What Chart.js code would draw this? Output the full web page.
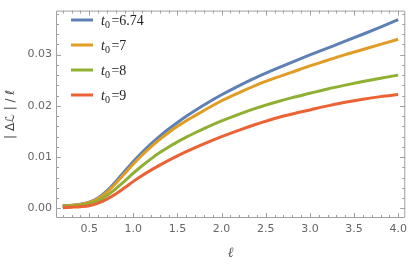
<!DOCTYPE html>
<html>
<head>
<meta charset="utf-8">
<script src="https://cdn.jsdelivr.net/npm/chart.js@4.4.0/dist/chart.umd.min.js"></script>
<style>
  html, body { margin: 0; padding: 0; background: #fff; }
  #wrap { width: 412px; height: 269px; }
</style>
</head>
<body>
<div id="wrap"><canvas id="chart"></canvas></div>
<script>
// data
const ell = [0.2, 0.3, 0.4, 0.5, 0.6, 0.7, 0.8, 0.9, 1.0, 1.1, 1.2, 1.3, 1.4, 1.5, 1.6, 1.7, 1.8,
             2.0, 2.2, 2.4, 2.6, 2.8, 3.0, 3.2, 3.4, 3.6, 3.8, 4.0];
const t674 = [0.0005, 0.0006, 0.0008, 0.0012, 0.0020, 0.0034, 0.0052, 0.0072, 0.00915, 0.01095, 0.0126, 0.0141, 0.01548, 0.01676, 0.01796, 0.01909, 0.02016,
              0.02216, 0.02396, 0.0256, 0.02712, 0.02856, 0.02994, 0.03128, 0.03262, 0.03398, 0.03538, 0.03682];
const t7 = [0.00045, 0.00055, 0.00075, 0.00115, 0.00185, 0.00315, 0.00485, 0.00675, 0.00865, 0.0104, 0.0120, 0.01345, 0.0148, 0.0160, 0.0171, 0.0181, 0.0191,
            0.0210, 0.0226, 0.0241, 0.0254, 0.0266, 0.0278, 0.0289, 0.0300, 0.0310, 0.0320, 0.0330];
const t8 = [0.0004, 0.0004, 0.0006, 0.0009, 0.0015, 0.0025, 0.0038, 0.0053, 0.00685, 0.0083, 0.00965, 0.01087, 0.01197, 0.01297, 0.01389, 0.01475, 0.01557,
            0.01705, 0.0184, 0.0196, 0.02065, 0.0216, 0.02245, 0.0233, 0.02405, 0.02475, 0.0254, 0.0260];
const t9 = [0.0001, 0.0002, 0.0003, 0.0005, 0.0010, 0.0018, 0.0028, 0.0040, 0.00525, 0.0064, 0.00745, 0.00843, 0.00935, 0.01022, 0.01105, 0.01184, 0.01259,
            0.01399, 0.01527, 0.01645, 0.01753, 0.0184, 0.0192, 0.0200, 0.0207, 0.0213, 0.0218, 0.0222];
const t0Labels = ['6.74', '7', '8', '9'];
const xTicks = [0.5, 1.0, 1.5, 2.0, 2.5, 3.0, 3.5, 4.0];
const yTicks = [0.00, 0.01, 0.02, 0.03];

const colors = ['#5E81B5', '#E19C24', '#8FB032', '#EB6235'];
const series = [t674, t7, t8, t9];

const datasets = series.map((s, i) => ({
  label: t0Labels[i],
  data: ell.map((x, j) => ({ x: x, y: s[j] })),
  borderColor: colors[i],
  borderWidth: 3,
  pointRadius: 0,
  fill: false,
  cubicInterpolationMode: 'monotone',
  order: 3 - i
}));

// frame with inward ticks on all sides, like Mathematica
const framePlugin = {
  id: 'frame',
  afterDatasetsDraw(chart) {
    const { ctx, chartArea: a, scales } = chart;
    const xs = scales.x, ys = scales.y;
    ctx.save();
    ctx.strokeStyle = '#a0a0a0';
    ctx.lineWidth = 1;
    ctx.beginPath();
    ctx.rect(a.left + 0.5, a.top + 0.5, a.right - a.left - 1, a.bottom - a.top - 1);
    ctx.stroke();
    ctx.beginPath();
    for (let k = 1; k <= 41; k++) {
      const v = k / 10;
      if (v < xs.min || v > xs.max) continue;
      const px = Math.round(xs.getPixelForValue(v)) + 0.5;
      const len = (k % 5 === 0) ? 5 : 3;
      ctx.moveTo(px, a.bottom); ctx.lineTo(px, a.bottom - len);
      ctx.moveTo(px, a.top); ctx.lineTo(px, a.top + len);
    }
    for (let k = 0; k <= 19; k++) {
      const v = k * 0.002;
      if (v < ys.min || v > ys.max) continue;
      const py = Math.round(ys.getPixelForValue(v)) + 0.5;
      const len = (k % 5 === 0) ? 5 : 3;
      ctx.moveTo(a.left, py); ctx.lineTo(a.left + len, py);
      ctx.moveTo(a.right, py); ctx.lineTo(a.right - len, py);
    }
    ctx.stroke();
    ctx.restore();
  }
};

// legend inside the plot: t0 = value
const serif = '"Liberation Serif", "DejaVu Serif", serif';
const legendPlugin = {
  id: 'innerLegend',
  afterDatasetsDraw(chart) {
    const ctx = chart.ctx;
    ctx.save();
    chart.data.datasets.forEach((ds, i) => {
      const y = 20 + i * 25;
      ctx.strokeStyle = ds.borderColor;
      ctx.lineWidth = 3;
      ctx.beginPath();
      ctx.moveTo(71, y); ctx.lineTo(93, y);
      ctx.stroke();
      ctx.fillStyle = '#222';
      ctx.textBaseline = 'alphabetic';
      let x = 101;
      ctx.font = 'italic 14px ' + serif;
      ctx.fillText('t', x, y + 5);
      x += ctx.measureText('t').width;
      ctx.font = '10px ' + serif;
      ctx.fillText('0', x, y + 8);
      x += ctx.measureText('0').width + 1.5;
      ctx.font = '14px ' + serif;
      ctx.fillText('=' + ds.label, x, y + 5);
    });
    ctx.restore();
  }
};

new Chart(document.getElementById('chart'), {
  type: 'line',
  data: { datasets: datasets },
  options: {
    responsive: true,
    maintainAspectRatio: false,
    animation: false,
    layout: { padding: { top: 2, right: 4, left: 0, bottom: 0 } },
    plugins: { legend: { display: false }, tooltip: { enabled: false } },
    scales: {
      x: {
        type: 'linear',
        min: 0.124,
        max: 4.08,
        grid: { display: false, drawTicks: false },
        border: { display: false },
        afterBuildTicks: s => { s.ticks = xTicks.map(v => ({ value: v })); },
        afterFit: s => { s.height = 51; },
        ticks: {
          color: '#666',
          font: { family: 'DejaVu Sans', size: 11 },
          padding: 5,
          maxRotation: 0,
          callback: v => v.toFixed(1)
        },
        title: {
          display: true,
          text: 'ℓ',
          color: '#555',
          font: { family: 'DejaVu Serif', style: 'italic', size: 14 },
          padding: { top: 1, bottom: 7 }
        }
      },
      y: {
        min: -0.0019,
        max: 0.0386,
        grid: { display: false, drawTicks: false },
        border: { display: false },
        afterBuildTicks: s => { s.ticks = yTicks.map(v => ({ value: v })); },
        afterFit: s => { s.width = 56; },
        ticks: {
          color: '#666',
          font: { family: 'DejaVu Sans', size: 11 },
          padding: 4,
          callback: v => v.toFixed(2)
        },
        title: {
          display: true,
          text: '| Δℒ | / ℓ',
          color: '#444',
          font: { family: 'DejaVu Sans', size: 12 },
          padding: { top: 4, bottom: 4 }
        }
      }
    }
  },
  plugins: [framePlugin, legendPlugin]
});
</script>
</body>
</html>
